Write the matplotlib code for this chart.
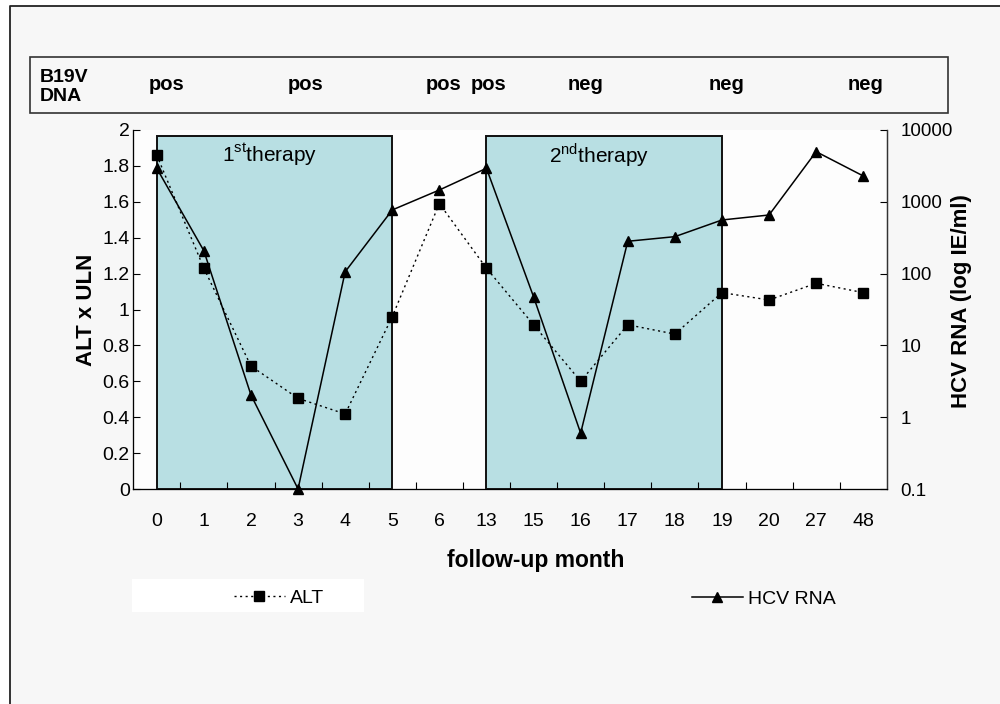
import numpy as np
import matplotlib.pyplot as plt
import matplotlib.transforms as mtransforms
from matplotlib.patches import Rectangle
from matplotlib.lines import Line2D
from matplotlib.ticker import FuncFormatter

plt.rcParams['font.family'] = ['Liberation Sans', 'DejaVu Sans']
plt.rcParams['mathtext.fontset'] = 'custom'
plt.rcParams['mathtext.rm'] = 'Liberation Sans'

# data
months = ['0', '1', '2', '3', '4', '5', '6', '13', '15', '16', '17', '18', '19', '20', '27', '48']
alt = [1.86, 1.23, 0.685, 0.505, 0.418, 0.96, 1.59, 1.23, 0.915, 0.60, 0.915, 0.863, 1.094, 1.053, 1.146, 1.094]
hcv_rna = [2930, 208, 2.04, 0.1, 106, 770, 1460, 2930, 47.6, 0.6, 282, 327, 558, 655, 4990, 2290]
therapy_names = ['1st', '2nd']
therapy_start = ['0', '13']
therapy_end = ['5', '19']
b19v_dna = ['pos', 'pos', 'pos', 'pos', 'neg', 'neg', 'neg']

# where the B19V labels sit along the month axis (category units)
b19v_x = [0.2, 3.15, 6.1, 7.05, 9.1, 12.1, 15.05]

W, H = 1000, 704
fig = plt.figure(figsize=(W / 100, H / 100), dpi=100, facecolor='white')
# grey page with a frame on the left and top
fig.add_artist(Rectangle((10 / W, 0), 1 - 10 / W, 1 - 6 / H, transform=fig.transFigure,
                         facecolor='#f7f7f7', edgecolor='none', zorder=-10))
fig.add_artist(Line2D([10 / W, 10 / W, 1], [0, 1 - 6 / H, 1 - 6 / H], transform=fig.transFigure,
                      color='#222222', lw=1.3))

# B19V DNA box
fig.add_artist(Rectangle((30 / W, 1 - 113 / H), 918 / W, 56 / H, transform=fig.transFigure,
                         fill=False, edgecolor='#333333', lw=1.2))
fig.text(40 / W, 1 - 87 / H, 'B19V\nDNA', fontsize=14, fontweight='bold', ha='left', va='center',
         linespacing=1.2)

ax = fig.add_axes([133.2 / W, 215 / H, 753.6 / W, 359 / H])
ax.set_facecolor('#fdfdfd')
x = np.arange(len(months))

for name, s, e in zip(therapy_names, therapy_start, therapy_end):
    i0, i1 = months.index(s), months.index(e)
    ax.add_patch(Rectangle((i0, 0), i1 - i0, 1.968, facecolor='#b8dfe3', edgecolor='#111111',
                           lw=1.4, zorder=1))
    ax.text((i0 + i1) / 2 - 0.1, 1.86, '%s$^{\\mathrm{%s}}$therapy' % (name[0], name[1:]),
            fontsize=15, ha='center', va='center', zorder=2)

ax.plot(x, alt, color='black', lw=1.0, linestyle=(0, (1.5, 2.5)), marker='s', ms=6.5,
        zorder=3, clip_on=False, label='ALT')
ax.set_xlim(-0.5, len(months) - 0.5)
ax.set_ylim(0, 2)
ax.set_yticks(np.arange(0, 2.01, 0.2))
ax.yaxis.set_major_formatter(FuncFormatter(lambda v, p: '%g' % round(v, 1)))
ax.set_xticks(x)
ax.set_xticklabels(months)
ax.set_xticks(x[:-1] + 0.5, minor=True)
ax.tick_params(axis='x', which='major', length=0, pad=17.5, labelsize=14)
ax.tick_params(axis='x', which='minor', direction='in', length=5, width=0.8)
ax.tick_params(axis='y', direction='in', length=5, width=0.8, pad=2.5, labelsize=14)
for sp in ['left', 'bottom', 'right']:
    ax.spines[sp].set_color('#333333')
    ax.spines[sp].set_linewidth(0.9)
ax.spines['top'].set_visible(False)

ax2 = ax.twinx()
hcv_line, = ax2.plot(x, hcv_rna, color='black', lw=1.1, marker='^', ms=7.5, zorder=4,
                     clip_on=False, label='HCV RNA')
ax2.set_yscale('log')
ax2.set_ylim(0.1, 10000)
ax2.set_yticks([0.1, 1, 10, 100, 1000, 10000])
ax2.yaxis.set_major_formatter(FuncFormatter(lambda v, p: '%g' % v))
ax2.yaxis.set_minor_locator(plt.NullLocator())
ax2.tick_params(axis='y', direction='in', length=5, width=0.8, pad=10, labelsize=13.5)
ax2.spines['top'].set_visible(False)
ax2.spines['right'].set_color('#333333')
ax2.spines['right'].set_linewidth(0.9)

# axis titles
fig.text(536 / W, 1 - 560 / H, 'follow-up month', fontsize=16.5, fontweight='bold',
         ha='center', va='center')
fig.text(86 / W, 1 - 310 / H, 'ALT x ULN', fontsize=16, fontweight='bold', rotation=90,
         ha='center', va='center')
fig.text(961 / W, 1 - 301 / H, 'HCV RNA (log IE/ml)', fontsize=16, fontweight='bold',
         rotation=90, ha='center', va='center')

# B19V status row
trans = mtransforms.blended_transform_factory(ax.transData, fig.transFigure)
for status, bx in zip(b19v_dna, b19v_x):
    ax.text(bx, 1 - 84 / H, status, transform=trans, fontsize=14.5, fontweight='bold',
            ha='center', va='center', clip_on=False)

# legends
fig.add_artist(Rectangle((132 / W, 1 - 612 / H), 232 / W, 33 / H, transform=fig.transFigure,
                         facecolor='white', edgecolor='none', zorder=0))
alt_line = ax.get_lines()[0]
leg1 = fig.legend(handles=[alt_line], labels=['ALT'], loc='center left',
                  bbox_to_anchor=(234 / W, 1 - 598 / H), frameon=False, borderpad=0,
                  borderaxespad=0, handlelength=2.6, handletextpad=0.3, fontsize=14,
                  numpoints=1)
leg2 = fig.legend(handles=[hcv_line], labels=['HCV RNA'], loc='center left',
                  bbox_to_anchor=(692 / W, 1 - 599 / H), frameon=False, borderpad=0,
                  borderaxespad=0, handlelength=2.6, handletextpad=0.3, fontsize=14,
                  numpoints=1)

fig.savefig('out.png', dpi=100, facecolor=fig.get_facecolor())
